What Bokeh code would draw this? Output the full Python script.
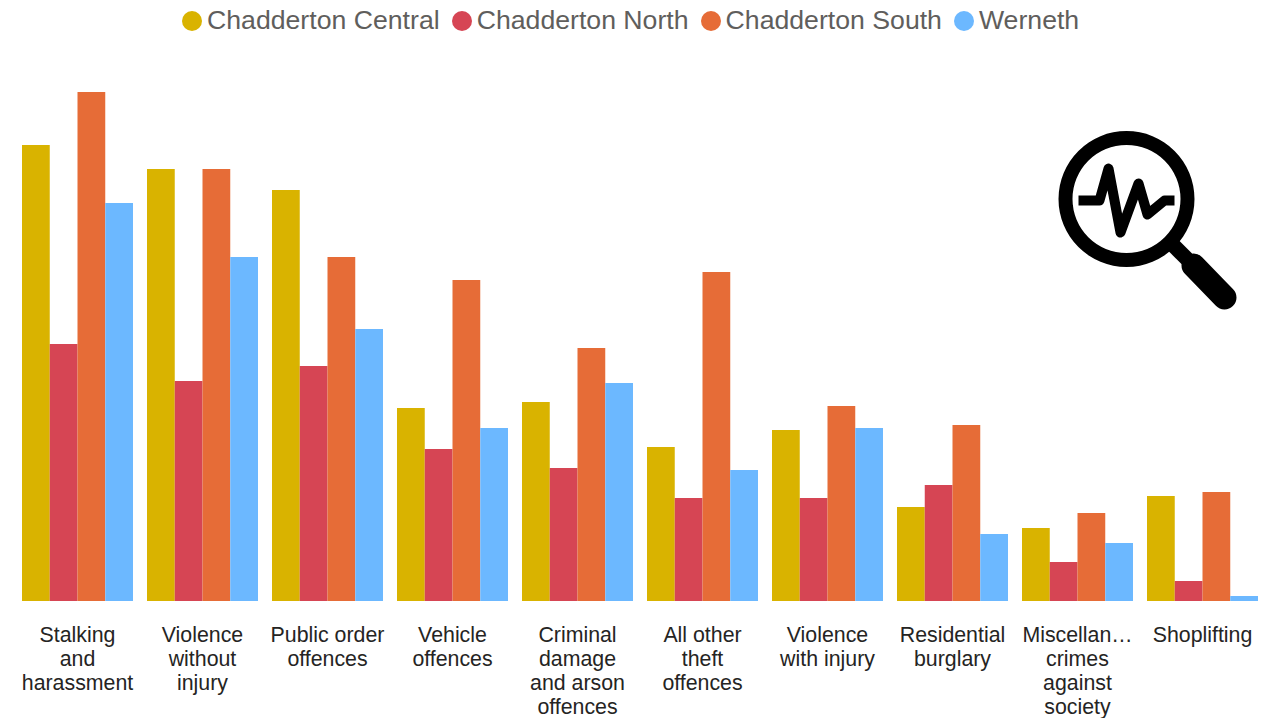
from bokeh.embed import file_html
from bokeh.resources import INLINE
from bokeh.plotting import figure
from bokeh.models import Range1d, Legend, LegendItem, ColumnDataSource, FixedTicker

categories = ["Stalking\nand\nharassment", "Violence\nwithout\ninjury", "Public order\noffences",
              "Vehicle\noffences", "Criminal\ndamage\nand arson\noffences", "All other\ntheft\noffences",
              "Violence\nwith injury", "Residential\nburglary", "Miscellan…\ncrimes\nagainst\nsociety", "Shoplifting"]
chadderton_central = [456, 432, 411, 193, 199, 154, 171, 94, 73, 105]
chadderton_north = [257, 220, 235, 152, 133, 103, 103, 116, 39, 20]
chadderton_south = [509, 432, 344, 321, 253, 329, 195, 176, 88, 109]
werneth = [398, 344, 272, 173, 218, 131, 173, 67, 58, 5]
series_names = ["Chadderton Central", "Chadderton North", "Chadderton South", "Werneth"]
series_values = [chadderton_central, chadderton_north, chadderton_south, werneth]
colors = ["#D9B300", "#D64554", "#E66C37", "#6CB8FF"]
offsets = [-0.333, -0.111, 0.111, 0.333]

# magnifier icon outline, in page pixels
wave_x = [1078, 1099, 1108, 1120, 1138, 1147, 1164, 1174]
wave_y = [200, 200, 168, 232, 183, 214, 200, 200]
neck_x = [1173, 1190]
neck_y = [245, 262]
grip_x = [1193, 1224]
grip_y = [265, 297]

positions = list(range(1, len(categories) + 1))

p = figure(width=1276, height=718, frame_height=602, output_backend="svg", toolbar_location=None,
           x_range=Range1d(0.504, 10.504), y_range=Range1d(-1.5, 600.5),
           min_border_left=15, min_border_right=11, min_border_top=0, min_border_bottom=0,
           outline_line_color=None, background_fill_color="white", border_fill_color="white")
p.grid.visible = False
p.yaxis.visible = False
ax = p.xaxis[0]
ax.ticker = FixedTicker(ticks=positions)
ax.major_label_overrides = {i: c for i, c in zip(positions, categories)}
ax.axis_line_color = None
ax.major_tick_line_color = None
ax.minor_tick_line_color = None
ax.major_label_text_font = "Liberation Sans"
ax.major_label_text_font_size = "21.33px"
ax.major_label_text_color = "#252423"
ax.major_label_text_line_height = 1.0
ax.major_label_standoff = 14
ax.major_label_orientation = "horizontal"

items = []
for name, vals, col, off in zip(series_names, series_values, colors, offsets):
    src = ColumnDataSource(dict(x=[q + off for q in positions], top=vals))
    p.vbar(x="x", top="top", width=0.222, bottom=0, source=src, fill_color=col, line_color=None)
    key = p.ellipse(x=[-5], y=[-5], width=20, height=20, width_units="screen", height_units="screen",
                    fill_color=col, line_color=None)
    items.append(LegendItem(label=name, renderers=[key]))

legend = Legend(items=items, orientation="horizontal", location=(164, 566), padding=0, margin=0,
                glyph_width=25, glyph_height=25, label_standoff=3, spacing=9, border_line_color=None,
                background_fill_alpha=0, label_text_font="Liberation Sans", label_text_font_size="26.67px",
                label_text_color="#605E5C", label_height=25)
p.add_layout(legend, "center")

# icon, drawn on page-pixel ranges
p.extra_x_ranges["px"] = Range1d(15, 1265)
p.extra_y_ranges["py"] = Range1d(602, 0)
k = dict(x_range_name="px", y_range_name="py", color="black")
p.annulus(x=[1126], y=[198.5], inner_radius=54, outer_radius=68, x_range_name="px", y_range_name="py",
          fill_color="black", line_color=None, inner_radius_units="screen", outer_radius_units="screen")
p.line(wave_x, wave_y, line_width=10, line_join="round", line_cap="butt", **k)
p.line(neck_x, neck_y, line_width=15, **k)
p.line(grip_x, grip_y, line_width=24, line_cap="round", **k)

open("out.html", "w").write(file_html(p, INLINE))
